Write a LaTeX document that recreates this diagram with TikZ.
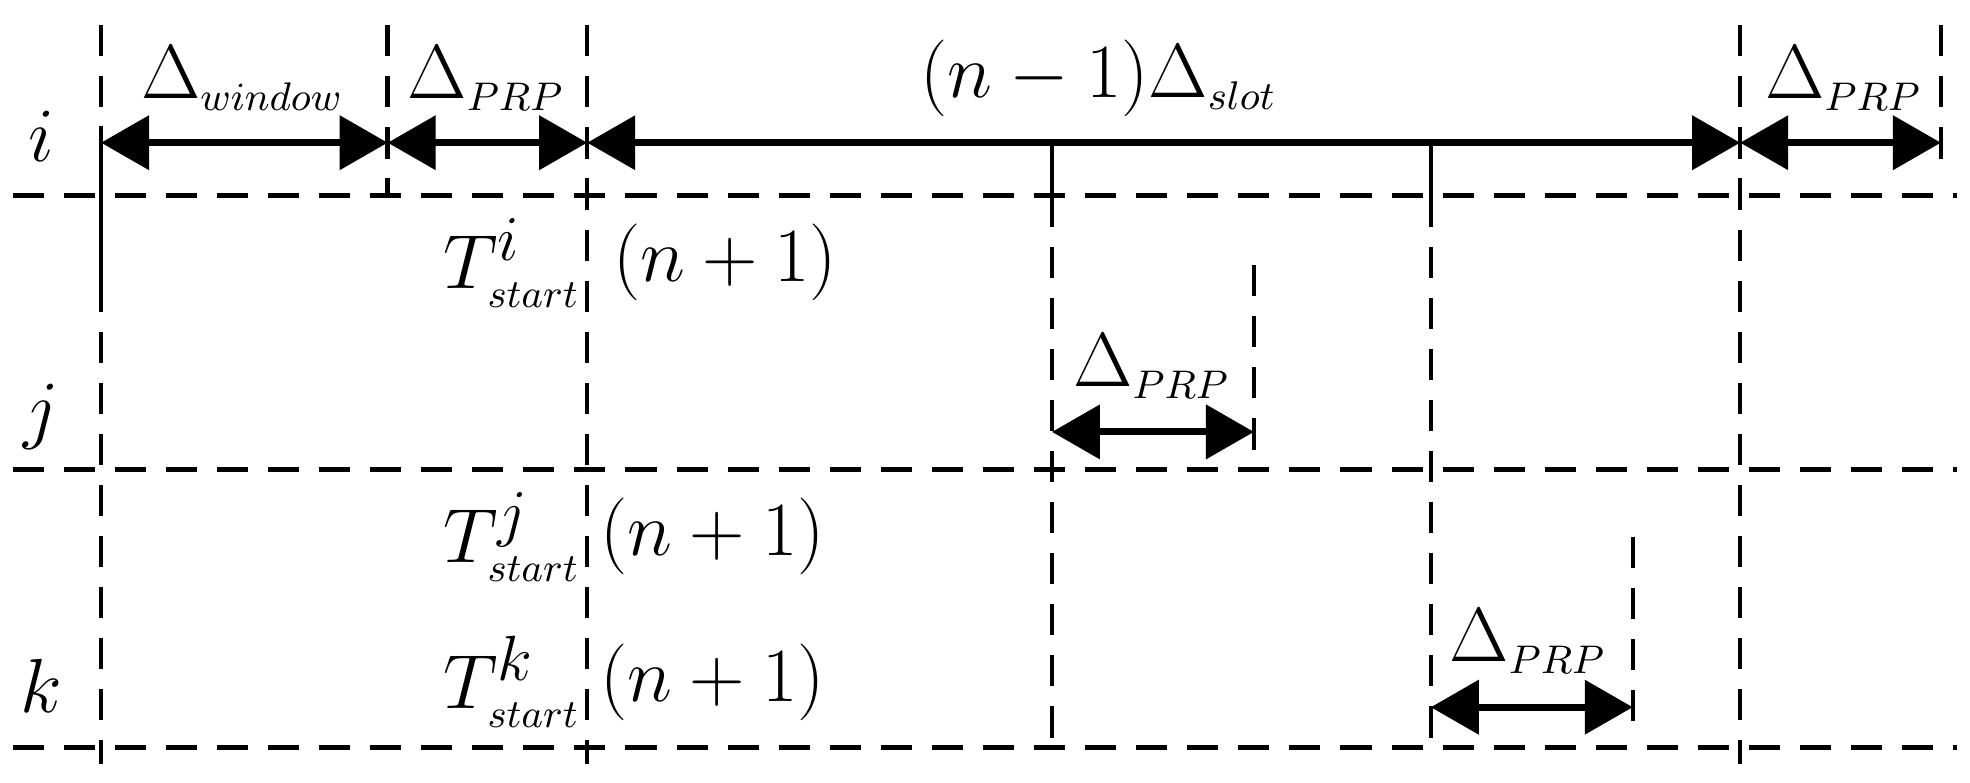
\documentclass[tikz,border=0pt]{standalone}
\usetikzlibrary{arrows.meta}
\begin{document}
\begin{tikzpicture}[x=0.01cm,y=-0.01cm,
  dl/.style={line width=1.2pt,dash pattern=on 7pt off 4.5pt},
  vl/.style={line width=1pt,dash pattern=on 7pt off 4.5pt},
  sl/.style={line width=1pt},
  dim/.style={line width=1.6pt,{Triangle[length=0.38cm,width=0.42cm]}-{Triangle[length=0.38cm,width=0.42cm]}},
  lb/.style={font=\fontsize{19}{22}\selectfont,inner sep=0pt}]
\useasboundingbox (0,0) rectangle (1560,620);
\newcommand{\sbs}[1]{_{\scriptscriptstyle #1}}
% horizontal dashed lines
\foreach \y/\n in {155/ha,372/hb,592/hc}{
  \coordinate (\n l) at (10,\y); \coordinate (\n r) at (1550,\y);
  \draw[dl] (\n l) -- (\n r);}
% vertical lines
\coordinate (v1t) at (80,20); \coordinate (v1b) at (80,605);
\coordinate (v2t) at (465,20); \coordinate (v2b) at (465,605);
\coordinate (v5t) at (1378,20); \coordinate (v5b) at (1378,605);
\coordinate (v6t) at (1537,20); \coordinate (v6b) at (1537,140);
\coordinate (vat) at (307,20); \coordinate (vab) at (307,155);
\draw[vl] (v1t)--(v1b); \draw[vl] (v2t)--(v2b); \draw[vl] (v5t)--(v5b);
\draw[vl] (v6t)--(v6b); \draw[vl] (vat)--(vab);
\coordinate (s1a) at (80,100); \coordinate (s1b) at (80,235);
\draw[sl] (s1a)--(s1b);
\coordinate (v3t) at (833,113); \coordinate (v3m) at (833,155); \coordinate (v3b) at (833,592);
\coordinate (v4t) at (1133,113); \coordinate (v4m) at (1133,155); \coordinate (v4b) at (1133,592);
\draw[sl] (v3t)--(v3m); \draw[vl] (v3m)--(v3b);
\draw[sl] (v4t)--(v4m); \draw[vl] (v4m)--(v4b);
\coordinate (v7t) at (993,210); \coordinate (v7b) at (993,362);
\coordinate (v8t) at (1293,425); \coordinate (v8b) at (1293,582);
\draw[vl] (v7t)--(v7b); \draw[vl] (v8t)--(v8b);
% dimension arrows
\coordinate (a0) at (80,113); \coordinate (a1) at (307,113);
\coordinate (a2) at (465,113); \coordinate (a3) at (1378,113); \coordinate (a4) at (1537,113);
\draw[dim] (a0)--(a1); \draw[dim] (a1)--(a2); \draw[dim] (a2)--(a3); \draw[dim] (a3)--(a4);
\coordinate (bj0) at (833,342); \coordinate (bj1) at (993,342);
\coordinate (bk0) at (1133,560); \coordinate (bk1) at (1293,560);
\draw[dim] (bj0)--(bj1); \draw[dim] (bk0)--(bk1);
% labels
\node[lb] (lw) at (192,62) {$\Delta\sbs{window}$};
\node[lb] (lp1) at (385,62) {$\Delta\sbs{PRP}$};
\node[lb] (ls) at (870,62) {$(n-1)\Delta\sbs{slot}$};
\node[lb] (lp2) at (1460,62) {$\Delta\sbs{PRP}$};
\node[lb] (li) at (33,108) {$i$};
\node[lb] (lj) at (33,330) {$j$};
\node[lb] (lk) at (33,543) {$k$};
\node[lb,anchor=east] (ti) at (460,208) {$T^{i}\sbs{start}$};
\node[lb,anchor=west] (ni) at (485,208) {$(n+1)$};
\node[lb,anchor=east] (tj) at (460,425) {$T^{j}\sbs{start}$};
\node[lb,anchor=west] (nj) at (475,425) {$(n+1)$};
\node[lb,anchor=east] (tk) at (460,540) {$T^{k}\sbs{start}$};
\node[lb,anchor=west] (nk) at (475,540) {$(n+1)$};
\node[lb] (lp3) at (912,290) {$\Delta\sbs{PRP}$};
\node[lb] (lp4) at (1210,508) {$\Delta\sbs{PRP}$};
\end{tikzpicture}
\end{document}
